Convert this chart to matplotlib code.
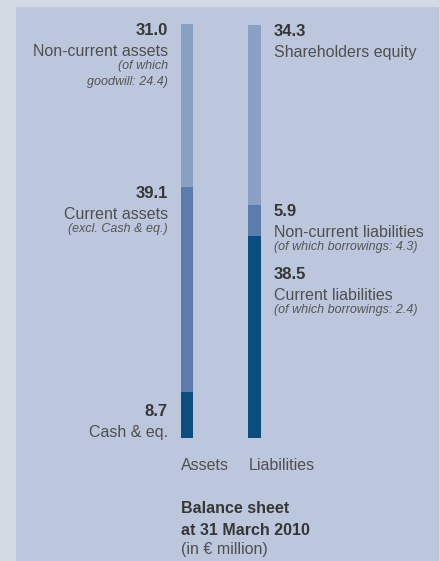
import matplotlib
matplotlib.use("Agg")
import matplotlib.pyplot as plt
from matplotlib.patches import Rectangle

plt.rcParams["font.family"] = ["Liberation Sans", "DejaVu Sans"]

W, H = 440, 561

# ---- data (segments listed top to bottom) ----
sides = ["Assets", "Liabilities"]
asset_names = ["Non-current assets", "Current assets", "Cash & eq."]
asset_values = [31.0, 39.1, 8.7]
asset_notes = ["(of which\ngoodwill: 24.4)", "(excl. Cash & eq.)", ""]
liab_names = ["Shareholders equity", "Non-current liabilities", "Current liabilities"]
liab_values = [34.3, 5.9, 38.5]
liab_notes = ["", "(of which borrowings: 4.3)", "(of which borrowings: 2.4)"]
title_lines = ["Balance sheet", "at 31 March 2010"]
unit_line = "(in \u20ac million)"

# ---- style ----
OUTER = "#d3dae3"
PANEL = "#bcc7de"
LIGHT = "#8a9fc4"
MID = "#5b7cac"
DARK = "#0c4d80"
NUM = "#363636"
TXT = "#4f4f4f"
NOTE = "#555555"
seg_colors = [LIGHT, MID, DARK]
anchors = [["top", "top", "bottom"], ["top", "top", "top"]]

fig = plt.figure(figsize=(W / 100, H / 100), dpi=100, facecolor=OUTER)
fig.patches.append(Rectangle((16 / W, 0), (439 - 16) / W, (H - 7) / H,
                             transform=fig.transFigure, facecolor=PANEL,
                             edgecolor="none", zorder=-5))

ax = fig.add_axes([0, (H - 438) / H, 1, 414 / H])
ax.set_zorder(2)
ax.axis("off")
ax.patch.set_alpha(0)
ax.set_xlim(-187 / 67.5, (W - 187) / 67.5)
total = max(sum(asset_values), sum(liab_values))
ax.set_ylim(0, total)
BW = 0.185


def to_px(x, y):
    X, Y = ax.transData.transform((x, y))
    return X, H - Y


def ftext(xp, yp, s, **kw):
    fig.text(xp / W, 1 - yp / H, s, va="baseline", **kw)


def block(xp, top, ha, value, name, note):
    ftext(xp, top + 12, f"{value:.1f}", ha=ha, fontsize=12, weight="bold", color=NUM)
    ftext(xp, top + 33, name, ha=ha, fontsize=11.5, color=TXT)
    last = top + 33
    if note:
        for j, line in enumerate(note.split("\n")):
            last = top + 46 + 16 * j
            ftext(xp, last, line, ha=ha, fontsize=9, style="italic", color=NOTE)
    return last


data = [(asset_values, asset_names, asset_notes), (liab_values, liab_names, liab_notes)]
for i, (vals, names, notes) in enumerate(data):
    tops = [sum(vals[k:]) for k in range(len(vals))]
    bottoms = [sum(vals[k + 1:]) for k in range(len(vals))]
    ax.bar([i] * len(vals), vals, bottom=bottoms, width=BW, color=seg_colors,
           edgecolor="none")

    if i == 0:
        xp = to_px(i - BW / 2, 0)[0] - 13
        ha = "right"
    else:
        xp = to_px(i + BW / 2, 0)[0] + 13
        ha = "left"

    prev_last = -1e9
    for k in range(len(vals)):
        seg_top = to_px(i, tops[k])[1] - 1
        seg_bot = to_px(i, bottoms[k])[1]
        if anchors[i][k] == "bottom":
            top = seg_bot - 34
        else:
            top = max(seg_top, prev_last + 17)
        prev_last = block(xp, top, ha, vals[k], names[k], notes[k])

    # category label under the bar
    lx = to_px(i - BW / 2, 0)[0]
    ftext(lx, 470, sides[i], ha="left", fontsize=11.5, color=TXT)

# title block
tx = to_px(-BW / 2, 0)[0]
ftext(tx, 513, title_lines[0], ha="left", fontsize=11.5, weight="bold", color=NUM)
ftext(tx, 535, title_lines[1], ha="left", fontsize=11.5, weight="bold", color=NUM)
ftext(tx, 554, unit_line, ha="left", fontsize=11.5, color=TXT)

fig.savefig("out.png", dpi=100, facecolor=OUTER)
